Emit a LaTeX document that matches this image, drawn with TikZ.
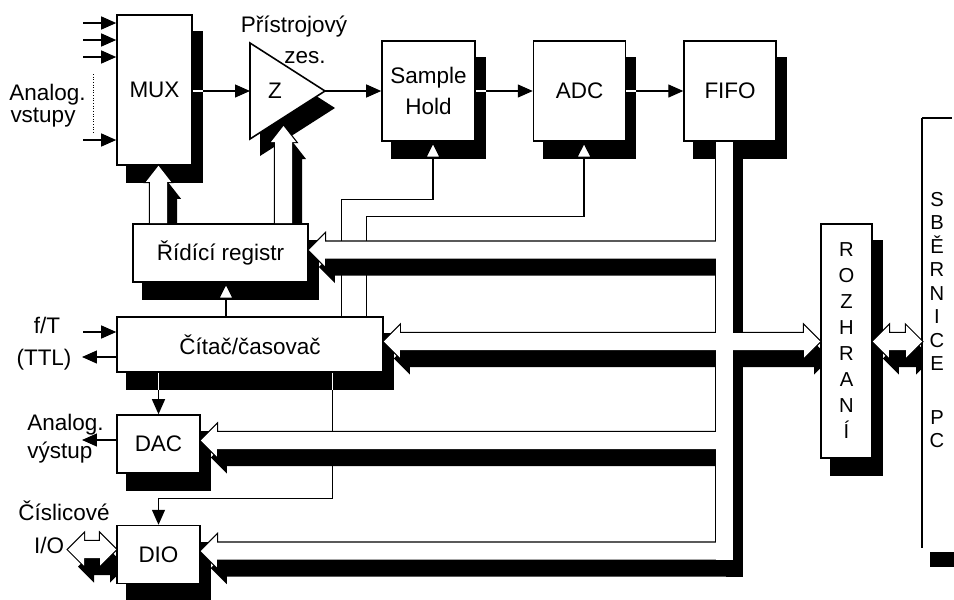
\documentclass[tikz,border=0pt]{standalone}
\usepackage{fontspec}
\setmainfont{Liberation Sans}
\usepackage{tikz}
\usetikzlibrary{arrows.meta, positioning, calc, backgrounds}
\newcommand{\dfont}{\fontsize{12.8}{15}\selectfont}
\newcommand{\vfont}{\fontsize{11.5}{14.8}\selectfont}
\tikzset{
  blk/.style ={rectangle, draw, fill=white, line width=0.9pt, inner sep=0pt, align=center, font=\dfont},
  txt/.style ={inner sep=0pt, font=\dfont},
  sig/.style ={-{Triangle[length=0.3cm, width=0.26cm]}, line width=0.7pt},
  ctl/.style ={-{Triangle[length=0.32cm, width=0.32cm, fill=white]}, line width=0.7pt},
  gap/.style ={draw=white, line width=0.7pt},
  shd/.style ={fill=black, transform canvas={shift={(10,17)}}},
}
% pieces of the hollow buses
\newcommand{\busvert}{(bustop) rectangle (busend)}
\newcommand{\busleft}[1]{(#1) -- ++(16,-16) -- ++(0,7.5) -- ($(busr |- #1)+(-3,-8.5)$) -- ++(0,17) -- ($(#1)+(16,8.5)$) -- ++(0,7.5) -- cycle}
\newcommand{\busright}{($(busr |- tC)+(-3,-8.5)$) -- ($(roz.west |- tC)+(-16,-8.5)$) -- ++(0,-7.5) -- (roz.west |- tC) -- ++(-16,16) -- ++(0,-7.5) -- ($(busr |- tC)+(-3,8.5)$) -- cycle}
\newcommand{\busup}[1]{(#1) -- ++(12.5,16) -- ++(-4,0) -- ($(#1 |- reg.north)+(8.5,0)$) -- ++(-17,0) -- ($(#1)+(-8.5,16)$) -- ++(-4,0) -- cycle}
\newcommand{\busdbl}[2]{(#1) -- ++(16,-16) -- ++(0,7.5) -- ($(#2)+(-16,-8.5)$) -- ++(0,-7.5) -- (#2) -- ++(-16,16) -- ++(0,-7.5) -- ($(#1)+(16,8.5)$) -- ++(0,7.5) -- cycle}

\begin{document}
\begin{tikzpicture}[x=0.02cm, y=-0.02cm]
  \useasboundingbox (0,0) rectangle (954,599);
  % blocks
  \node[blk, minimum width=1.5cm, minimum height=3cm] (mux) at (154.5,90) {MUX};
  \node[blk, minimum width=1.86cm, minimum height=2cm, font=\fontsize{12.8}{17.5}\selectfont] (sh) at (428.5,91) {Sample\\Hold};
  \node[blk, minimum width=1.84cm, minimum height=2cm, right=1.14cm of sh] (adc) {ADC};
  \node[blk, minimum width=1.84cm, minimum height=2cm, right=1.14cm of adc] (fifo) {FIFO};
  \node[blk, minimum width=3.5cm, minimum height=1.16cm] (reg) at (220.5,253) {Řídící registr};
  \node[blk, minimum width=5.32cm, minimum height=1.1cm] (cit) at (250,344.5) {Čítač/časovač};
  \node[blk, minimum width=1.66cm, minimum height=1.16cm] (dac) at (158.5,444) {DAC};
  \node[blk, minimum width=1.66cm, minimum height=1.16cm, below=1.02cm of dac] (dio) {DIO};
  \node[blk, minimum width=1.02cm, minimum height=4.68cm, font=\vfont] (roz) at (846.5,341) {R\\O\\Z\\H\\R\\A\\N\\Í};
  % amplifier
  \coordinate (ampin) at (250,91);
  \coordinate (ampout) at (325,91);
  \draw[line width=0.9pt, fill=white] ($(ampin)+(0,-48)$) -- (ampout) -- ($(ampin)+(0,48)$) -- cycle;
  \node[txt] (amp) at (275,91) {Z};
  % labels
  \node[txt, anchor=base] (ain1) at (47.5,100) {Analog.};
  \node[txt, anchor=base] (ain2) at (43,122) {vstupy};
  \node[txt, anchor=base] (ampl1) at (294,32) {Přístrojový};
  \node[txt, anchor=base] (ampl2) at (305,63) {zes.};
  \node[txt, anchor=base] (ftl) at (47,333) {f/T};
  \node[txt, anchor=base] (ttll) at (44,365) {(TTL)};
  \node[txt, anchor=base west] (aol1) at (27,430) {Analog.};
  \node[txt, anchor=base west] (aol2) at (27,458) {výstup};
  \node[txt, anchor=base] (dl1) at (64,520) {Číslicové};
  \node[txt, anchor=base] (dl2) at (49,553) {I/O};
  \node[txt, font=\fontsize{11.5}{13.4}\selectfont, align=center] (sbn) at (937,320) {S\\B\\Ě\\R\\N\\I\\C\\E\\[17pt]P\\C};
  % PC bus edge
  \coordinate (sbtop) at (922,118);
  \coordinate (sbbot) at (922,548);
  \draw[line width=1.1pt] (sbtop) -- (sbbot);
  \draw[line width=1.4pt] (sbtop) -- ++(30,0);
  % helper points for the buses
  \coordinate (tR) at ($(reg.east)+(0,-3)$);
  \coordinate (tC) at ($(cit.east)+(0,-3)$);
  \coordinate (tD) at ($(dac.east)+(0,-3.5)$);
  \coordinate (tI) at ($(dio.east)+(0,-3.5)$);
  \coordinate (bustop) at ($(fifo.south west)+(33,0)$);
  \coordinate (busr) at ($(bustop)+(17,0)$);
  \coordinate (busend) at ($(busr |- tI)+(0,8.5)$);
  \coordinate (mt) at ($(mux.south)+(4,0)$);
  \coordinate (zt) at ($(amp)+(8.5,35)$);
  \coordinate (sbin) at (sbtop |- tC);
  \coordinate (rozout) at (roz.east |- tC);
  \coordinate (io) at (68,549.5);
  \coordinate (dioin) at (io -| dio.west);
  % shadows
  \begin{scope}[on background layer]
    \foreach \n in {mux,sh,adc,fifo,reg,cit,dac,dio,roz}
      \fill ($(\n.south west)+(10,17)$) rectangle ($(\n.north east)+(10,17)$);
    \fill ($(ampin)+(10,-31)$) -- ($(ampout)+(10,17)$) -- ($(ampin)+(10,65)$) -- cycle;
    \fill ($(sbbot)+(8,4)$) rectangle ($(sbbot)+(32,19)$);
    \foreach \p in {\busvert, \busleft{tR}, \busleft{tC}, \busleft{tD}, \busleft{tI}, \busright, \busup{mt}, \busup{zt}, \busdbl{io}{dioin}}
      \fill[shd] \p;
    \begin{scope}
      \clip (0,0) rectangle (922,599);
      \fill[shd] \busdbl{rozout}{sbin};
    \end{scope}
  \end{scope}
  % analog inputs
  \foreach \y [count=\i] in {23,40,57,140} {
    \coordinate (in\i) at (83,\y);
    \draw[sig] (in\i) -- (in\i -| mux.west);
  }
  \draw[densely dotted, line width=0.5pt] (93,74) -- (93,132);
  % signal path
  \draw[sig] (mux.east |- ampin) -- (ampin);
  \draw[sig] (ampout) -- (sh.west);
  \draw[sig] (sh) -- (adc);
  \draw[sig] (adc) -- (fifo);
  \draw[gap] (mux.east |- ampin) -- ++(10,0);
  \draw[gap] (sh.east) -- ++(10,0);
  \draw[gap] (adc.east) -- ++(10,0);
  % control lines
  \draw[ctl] ($(cit.north west)+(225,0)$) |- ($(sh.south)+(4.5,58)$) -- ($(sh.south)+(4.5,0)$);
  \draw[ctl] ($(cit.north west)+(250,0)$) |- ($(adc.south)+(4.5,75)$) -- ($(adc.south)+(4.5,0)$);
  \coordinate (regin) at ($(reg.south)+(5.5,0)$);
  \draw[ctl] (regin |- cit.north) -- (regin);
  \coordinate (ft) at (83,332);
  \coordinate (ttl) at (82,357);
  \coordinate (aout) at (82,440);
  \draw[sig] (ft) -- (ft -| cit.west);
  \draw[sig] (ttl -| cit.west) -- (ttl);
  \draw[sig] (aout -| dac.west) -- (aout);
  \draw[sig] (dac.north |- cit.south) -- (dac.north);
  \draw[sig] ($(cit.south west)+(216,0)$) |- ($(dio.north)+(0,-26)$) -- (dio.north);
  \draw[gap] (dac.north |- cit.south) -- ++(0,17);
  \draw[gap] ($(cit.south west)+(216,0)$) -- ++(0,17);
  % hollow buses
  \draw[line width=1.4pt] \busvert \busleft{tR} \busleft{tC} \busleft{tD} \busleft{tI} \busright
    \busup{mt} \busup{zt} \busdbl{rozout}{sbin} \busdbl{io}{dioin};
  \foreach \p in {\busvert, \busleft{tR}, \busleft{tC}, \busleft{tD}, \busleft{tI}, \busright, \busup{mt}, \busup{zt}, \busdbl{rozout}{sbin}, \busdbl{io}{dioin}}
    \fill[white] \p;
\end{tikzpicture}
\end{document}
